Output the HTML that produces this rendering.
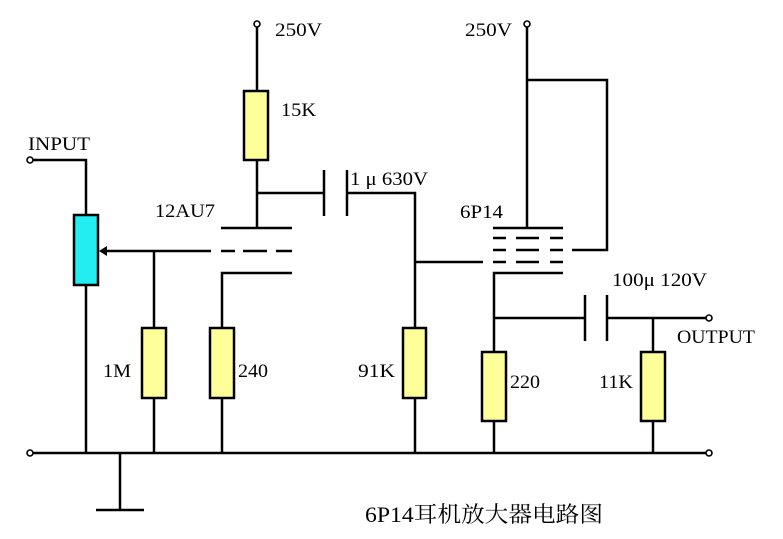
<!DOCTYPE html>
<html>
<head>
<meta charset="utf-8">
<style>
  html, body { margin: 0; padding: 0; background: #ffffff; }
  svg { display: block; }
  text { font-family: "Liberation Serif", "Noto Serif CJK SC", serif; fill: #000; }
</style>
</head>
<body>
<svg width="783" height="539" viewBox="0 0 783 539" xmlns="http://www.w3.org/2000/svg">
  <rect x="0" y="0" width="783" height="539" fill="#ffffff"/>
  <g stroke="#000" stroke-width="2.5" fill="none" stroke-linecap="butt">
    <!-- Left tube B+ -->
    <line x1="257" y1="27" x2="257" y2="91"/>
    <line x1="257" y1="160" x2="257" y2="228"/>
    <line x1="257" y1="193" x2="324" y2="193"/>
    <line x1="324" y1="170" x2="324" y2="216"/>
    <line x1="347" y1="170" x2="347" y2="216"/>
    <polyline points="347,193 415,193 415,328"/>
    <!-- 12AU7 plate -->
    <line x1="221" y1="228" x2="292" y2="228"/>
    <!-- 12AU7 grid dashes -->
    <line x1="221" y1="251" x2="235" y2="251"/>
    <line x1="243" y1="251" x2="267" y2="251"/>
    <line x1="276" y1="251" x2="292" y2="251"/>
    <!-- wiper -->
    <line x1="104" y1="251" x2="211" y2="251"/>
    <!-- 12AU7 cathode -->
    <polyline points="292,273 222,273 222,328"/>
    <line x1="222" y1="398" x2="222" y2="453"/>
    <!-- 1M -->
    <line x1="154" y1="251" x2="154" y2="328"/>
    <line x1="154" y1="398" x2="154" y2="453"/>
    <!-- Input -->
    <polyline points="33,160 86,160 86,215"/>
    <line x1="86" y1="285" x2="86" y2="453"/>
    <!-- Ground bus -->
    <line x1="33" y1="453" x2="706" y2="453"/>
    <line x1="120" y1="453" x2="120" y2="510"/>
    <line x1="96" y1="510" x2="144" y2="510"/>
    <!-- Right tube B+ -->
    <line x1="527" y1="27" x2="527" y2="228"/>
    <polyline points="527,80 607,80 607,250 572,250"/>
    <!-- 6P14 plate -->
    <line x1="493" y1="228" x2="563" y2="228"/>
    <!-- 6P14 grids -->
    <line x1="493" y1="238" x2="506" y2="238"/>
    <line x1="516" y1="238" x2="539" y2="238"/>
    <line x1="550" y1="238" x2="563" y2="238"/>
    <line x1="493" y1="250" x2="506" y2="250"/>
    <line x1="516" y1="250" x2="539" y2="250"/>
    <line x1="550" y1="250" x2="563" y2="250"/>
    <line x1="493" y1="262" x2="506" y2="262"/>
    <line x1="516" y1="262" x2="539" y2="262"/>
    <line x1="550" y1="262" x2="563" y2="262"/>
    <line x1="415" y1="262" x2="483" y2="262"/>
    <!-- 91K bottom -->
    <line x1="415" y1="398" x2="415" y2="453"/>
    <!-- 6P14 cathode -->
    <polyline points="563,273 494,273 494,352"/>
    <line x1="494" y1="421" x2="494" y2="453"/>
    <line x1="494" y1="318" x2="585" y2="318"/>
    <line x1="585" y1="295" x2="585" y2="341"/>
    <line x1="607" y1="295" x2="607" y2="341"/>
    <line x1="607" y1="318" x2="706" y2="318"/>
    <!-- 11K -->
    <line x1="653" y1="318" x2="653" y2="352"/>
    <line x1="653" y1="421" x2="653" y2="453"/>
  </g>

  <!-- Resistors -->
  <g stroke="#000" stroke-width="2.5">
    <rect x="244" y="91" width="24" height="69" fill="#FFFF99"/>
    <rect x="142" y="328" width="24" height="70" fill="#FFFF99"/>
    <rect x="210" y="328" width="24" height="70" fill="#FFFF99"/>
    <rect x="403" y="328" width="23" height="70" fill="#FFFF99"/>
    <rect x="482" y="352" width="24" height="69" fill="#FFFF99"/>
    <rect x="641" y="352" width="24" height="69" fill="#FFFF99"/>
    <rect x="74" y="215" width="24" height="70" fill="#22EEF2"/>
  </g>
  <!-- arrowhead -->
  <polygon points="99,251 107,246 107,256" fill="#000"/>

  <!-- Terminals -->
  <g stroke="#000" stroke-width="1.6" fill="#fff">
    <circle cx="257" cy="24" r="3"/>
    <circle cx="527" cy="24" r="3"/>
    <circle cx="30" cy="160" r="3"/>
    <circle cx="30" cy="453" r="3"/>
    <circle cx="709" cy="453" r="3"/>
    <circle cx="709" cy="318" r="3"/>
  </g>

  <!-- Labels -->
  <g font-size="19">
    <text x="275" y="36" textLength="47" lengthAdjust="spacingAndGlyphs">250V</text>
    <text x="465" y="36" textLength="47" lengthAdjust="spacingAndGlyphs">250V</text>
    <text x="281" y="116" textLength="35" lengthAdjust="spacingAndGlyphs">15K</text>
    <text x="28" y="150" textLength="62" lengthAdjust="spacingAndGlyphs">INPUT</text>
    <text x="350" y="185" textLength="78" lengthAdjust="spacingAndGlyphs">1 μ 630V</text>
    <text x="155" y="217" textLength="60" lengthAdjust="spacingAndGlyphs">12AU7</text>
    <text x="460" y="218" textLength="43" lengthAdjust="spacingAndGlyphs">6P14</text>
    <text x="612" y="286" textLength="95" lengthAdjust="spacingAndGlyphs">100μ 120V</text>
    <text x="677" y="343" textLength="78" lengthAdjust="spacingAndGlyphs">OUTPUT</text>
    <text x="103" y="377" textLength="28" lengthAdjust="spacingAndGlyphs">1M</text>
    <text x="238" y="377" textLength="30" lengthAdjust="spacingAndGlyphs">240</text>
    <text x="358" y="377" textLength="37" lengthAdjust="spacingAndGlyphs">91K</text>
    <text x="510" y="388" textLength="30" lengthAdjust="spacingAndGlyphs">220</text>
    <text x="599" y="388" textLength="34" lengthAdjust="spacingAndGlyphs">11K</text>
  </g>
  <text x="365" y="522" font-size="22" textLength="238" lengthAdjust="spacingAndGlyphs">6P14耳机放大器电路图</text>
</svg>
</body>
</html>
